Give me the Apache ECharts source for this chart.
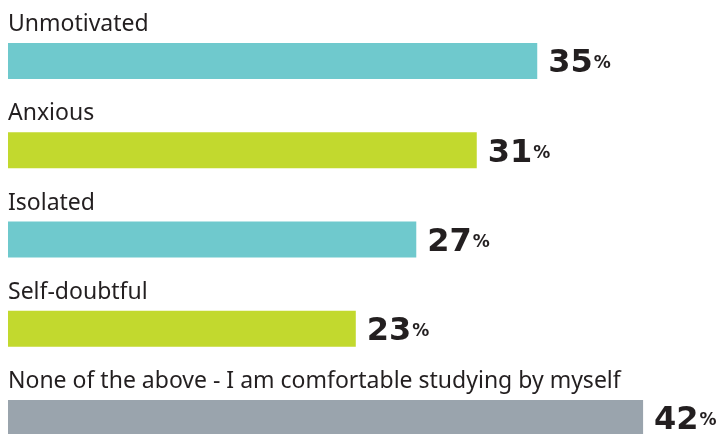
<!DOCTYPE html>
<html>
<head>
<meta charset="utf-8">
<script src="https://cdn.jsdelivr.net/npm/echarts@6/dist/echarts.min.js"></script>
<style>html,body{margin:0;padding:0;background:#fff;}#c{width:728px;height:434px;}</style>
</head>
<body>
<div id="c"></div>
<script>
const categories = ["Unmotivated", "Anxious", "Isolated", "Self-doubtful", "None of the above - I am comfortable studying by myself"];
const values = [35, 31, 27, 23, 42];
const barColors = ["#6FC9CD", "#C2D92E", "#6FC9CD", "#C2D92E", "#9AA4AD"];

const chart = echarts.init(document.getElementById('c'), null, {renderer: 'canvas'});
chart.setOption({
  animation: false,
  grid: {left: 8, width: 710.7, top: 16.4, height: 446.25, containLabel: false, outerBoundsMode: 'none'},
  xAxis: {type: 'value', min: 0, max: 47, show: false},
  yAxis: {
    type: 'category', data: categories, inverse: true,
    axisLine: {show: false}, axisTick: {show: false}, splitLine: {show: false},
    axisLabel: {
      inside: true, align: 'left', verticalAlign: 'bottom', margin: 0,
      padding: [0, 0, 25, 0],
      fontFamily: 'Noto Sans', fontSize: 23, color: '#231F20'
    }
  },
  series: [{
    type: 'bar', barWidth: 36,
    data: values.map((v, i) => ({value: v, itemStyle: {color: barColors[i]}})),
    label: {
      show: true, position: 'right', distance: 11, offset: [0, 3],
      formatter: p => '{n|' + p.value + '}{p|%}',
      rich: {
        n: {fontFamily: 'DejaVu Sans', fontWeight: 'bold', fontSize: 32, color: '#231F20'},
        p: {fontFamily: 'DejaVu Sans', fontWeight: 'bold', fontSize: 17, color: '#231F20', padding: [0, 0, 0, 1]}
      }
    }
  }]
});
</script>
</body>
</html>
